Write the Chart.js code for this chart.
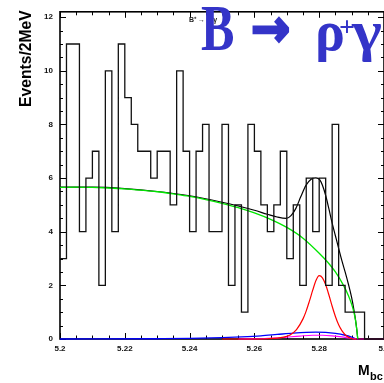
<!DOCTYPE html>
<html>
<head>
<meta charset="utf-8">
<script src="https://cdn.jsdelivr.net/npm/chart.js@4.4.0/dist/chart.umd.min.js"></script>
<style>
  html, body { margin: 0; padding: 0; background: #fff; overflow: hidden; }
  #wrap { position: relative; width: 400px; height: 383px; }
</style>
</head>
<body>
<div id="wrap"><canvas id="mbc" width="400" height="383"></canvas></div>
<script>
/* ---------- data ---------- */
const binStart = 5.2;          // GeV, first bin low edge
const binWidth = 0.002;        // 2 MeV bins
const counts = [3, 11, 11, 4, 6, 7, 2, 10, 4, 11,
                9, 8, 7, 7, 6, 7, 7, 5, 10, 7,
                4, 7, 8, 4, 4, 8, 2, 5, 1, 8,
                7, 5, 4, 5, 7, 3, 5, 2, 6, 4,
                6, 2, 8, 2, 1, 1, 1, 0, 0, 0];

// total fit (black)
const fitMass = [5.200, 5.210, 5.220, 5.230, 5.240, 5.250, 5.255, 5.260, 5.264, 5.267,
                 5.2698, 5.2713, 5.2728, 5.2743, 5.2759, 5.2775, 5.279, 5.2802, 5.281, 5.282,
                 5.283, 5.284, 5.285, 5.286, 5.287, 5.288, 5.289, 5.290, 5.2907, 5.2912,
                 5.2916, 5.2919];
const fitVals = [5.66, 5.66, 5.61, 5.50, 5.34, 5.10, 4.96, 4.80, 4.65, 4.55,
                 4.50, 4.60, 4.87, 5.30, 5.73, 5.96, 6.01, 5.93, 5.73, 5.35,
                 4.85, 4.32, 3.85, 3.38, 2.92, 2.50, 2.05, 1.55, 1.10, 0.72,
                 0.35, 0];

// continuum background (green)
const bkgMass = [5.200, 5.205, 5.210, 5.215, 5.220, 5.225, 5.230, 5.235, 5.240, 5.245,
                 5.250, 5.255, 5.260, 5.265, 5.270, 5.275, 5.280, 5.2825, 5.285, 5.2875,
                 5.289, 5.290, 5.2907, 5.2912, 5.2916, 5.2919];
const bkgVals = [5.65, 5.66, 5.65, 5.63, 5.60, 5.55, 5.49, 5.41, 5.32, 5.20,
                 5.06, 4.90, 4.70, 4.46, 4.16, 3.76, 3.20, 2.88, 2.50, 2.00,
                 1.62, 1.30, 1.00, 0.70, 0.35, 0];

// signal (red)
const sigMass = [5.250, 5.260, 5.264, 5.267, 5.269, 5.271, 5.273, 5.275, 5.276, 5.277,
                 5.278, 5.279, 5.280, 5.281, 5.282, 5.283, 5.284, 5.285, 5.286, 5.287,
                 5.288, 5.289, 5.290, 5.291, 5.300];
const sigVals = [0, 0, 0.01, 0.03, 0.07, 0.15, 0.35, 0.75, 1.05, 1.42,
                 1.82, 2.18, 2.36, 2.28, 2.02, 1.64, 1.22, 0.84, 0.53, 0.31,
                 0.16, 0.07, 0.02, 0, 0];

// B background (blue)
const bbMass = [5.200, 5.230, 5.240, 5.250, 5.256, 5.262, 5.267, 5.272, 5.276, 5.279,
                5.282, 5.285, 5.288, 5.290, 5.2915, 5.300];
const bbVals = [0, 0.01, 0.02, 0.05, 0.08, 0.12, 0.17, 0.22, 0.25, 0.26,
                0.25, 0.21, 0.14, 0.07, 0, 0];

// cross-feed (magenta)
const xfMass = [5.255, 5.262, 5.266, 5.270, 5.274, 5.278, 5.281, 5.284, 5.287, 5.289,
                5.2905, 5.2915];
const xfVals = [0, 0.01, 0.03, 0.07, 0.11, 0.14, 0.14, 0.12, 0.08, 0.04,
                0.01, 0];

const xTicks = [5.2, 5.22, 5.24, 5.26, 5.28, 5.3];
const yTicks = [0, 2, 4, 6, 8, 10, 12];

/* ---------- helpers ---------- */
function pairs(xs, ys) {
    return xs.map((x, i) => ({x: x, y: ys[i]}));
}
function histPoints() {
    const pts = counts.map((c, i) => ({x: binStart + i * binWidth, y: c}));
    pts.push({x: binStart + counts.length * binWidth, y: 0});
    return pts;
}
function curve(label, xs, ys, color, width) {
    return {
        label: label, data: pairs(xs, ys), borderColor: color, borderWidth: width,
        pointRadius: 0, fill: false, cubicInterpolationMode: 'monotone', clip: 3
    };
}

/* ---------- frame + inward ticks ---------- */
const framePlugin = {
    id: 'frame',
    beforeDatasetsDraw(chart) {
        const ctx = chart.ctx, a = chart.chartArea;
        const xs = chart.scales.x, ys = chart.scales.y;
        ctx.save();
        ctx.strokeStyle = '#000';
        ctx.lineWidth = 1;
        ctx.beginPath();
        for (let k = 0; k <= 24; k++) {
            const py = Math.round(ys.getPixelForValue(k * 0.5)) + 0.5;
            const len = (k % 4 === 0) ? 6 : 3;
            ctx.moveTo(a.left, py); ctx.lineTo(a.left + len, py);
            ctx.moveTo(a.right, py); ctx.lineTo(a.right - len, py);
        }
        for (let k = 0; k <= 20; k++) {
            const px = Math.round(xs.getPixelForValue(5.2 + k * 0.005)) + 0.5;
            const len = (k % 4 === 0) ? 6 : 3.5;
            ctx.moveTo(px, a.bottom); ctx.lineTo(px, a.bottom - len);
            ctx.moveTo(px, a.top); ctx.lineTo(px, a.top + len);
        }
        ctx.stroke();
        ctx.lineWidth = 1.6;
        ctx.strokeRect(a.left, a.top, a.right - a.left, a.bottom - a.top);
        ctx.restore();
    }
};

/* ---------- titles ---------- */
function scaledText(ctx, txt, x, y, font, sx) {
    ctx.save();
    ctx.translate(x, y);
    ctx.scale(sx, 1);
    ctx.font = font;
    ctx.fillText(txt, 0, 0);
    ctx.restore();
}
const textPlugin = {
    id: 'texts',
    afterDraw(chart) {
        const ctx = chart.ctx;
        ctx.save();
        ctx.textAlign = 'left';
        ctx.textBaseline = 'alphabetic';

        // y title
        ctx.fillStyle = '#000';
        ctx.save();
        ctx.translate(31, 107);
        ctx.rotate(-Math.PI / 2);
        ctx.font = 'bold 15.7px "Liberation Sans", Arial, sans-serif';
        ctx.fillText('Events/2MeV', 0, 0);
        ctx.restore();

        // x title
        ctx.font = 'bold 14px "Liberation Sans", Arial, sans-serif';
        ctx.fillText('M', 358, 375);
        ctx.font = 'bold 11px "Liberation Sans", Arial, sans-serif';
        ctx.fillText('bc', 370, 380);

        // small decay label
        ctx.fillStyle = '#222';
        ctx.font = 'bold 7px "Liberation Sans", Arial, sans-serif';
        ctx.fillText('B\u207A \u2192 \u03C1\u207A\u03B3', 189, 22);

        // big decay title
        ctx.fillStyle = '#3434c8';
        scaledText(ctx, 'B', 201, 50, 'bold 66px "Liberation Serif", serif', 0.76);
        ctx.save();
        ctx.translate(251, 46);
        ctx.scale(0.9, 1);
        ctx.font = 'bold 52px "DejaVu Sans", sans-serif';
        ctx.strokeStyle = '#3434c8';
        ctx.lineWidth = 2.5;
        ctx.fillText('\u2192', 0, 0);
        ctx.strokeText('\u2192', 0, 0);
        ctx.restore();
        scaledText(ctx, '\u03C1', 315, 50, 'bold 56px "Liberation Serif", serif', 1);
        scaledText(ctx, '+', 339, 36, 'bold 28px "Liberation Serif", serif', 1);
        scaledText(ctx, '\u03B3', 352, 50, 'bold 58px "Liberation Serif", serif', 1.1);
        ctx.restore();
    }
};

/* ---------- chart ---------- */
const tickFont = {family: '"Liberation Sans", Arial, sans-serif', size: 8, weight: 'bold'};

new Chart(document.getElementById('mbc'), {
    type: 'line',
    data: {
        datasets: [
            {label: 'data', data: histPoints(), stepped: true, borderColor: '#111',
             borderWidth: 1.3, pointRadius: 0, fill: false, clip: 3},
            curve('background', bkgMass, bkgVals, '#00e600', 1.3),
            curve('fit', fitMass, fitVals, '#000', 1.2),
            curve('signal', sigMass, sigVals, '#ff0000', 1.2),
            curve('crossfeed', xfMass, xfVals, '#ff00ff', 1.2),
            curve('B background', bbMass, bbVals, '#0000ff', 1.3)
        ]
    },
    options: {
        responsive: false,
        animation: false,
        events: [],
        layout: {padding: {top: 7, right: 16, left: 0, bottom: 0}},
        plugins: {legend: {display: false}, tooltip: {enabled: false}},
        scales: {
            x: {
                type: 'linear', min: 5.2, max: 5.3,
                grid: {display: false, drawTicks: false},
                border: {display: false},
                afterBuildTicks: s => { s.ticks = xTicks.map(v => ({value: v})); },
                afterFit: s => { s.height = 44; },
                ticks: {
                    color: '#111', font: tickFont, padding: 5, maxRotation: 0, autoSkip: false,
                    callback: v => String(Number(v.toFixed(2)))
                }
            },
            y: {
                type: 'linear', min: 0, max: 12.2,
                grid: {display: false, drawTicks: false},
                border: {display: false},
                afterBuildTicks: s => { s.ticks = yTicks.map(v => ({value: v})); },
                afterFit: s => { s.width = 60; },
                ticks: {color: '#111', font: tickFont, padding: 7, autoSkip: false}
            }
        }
    },
    plugins: [framePlugin, textPlugin]
});
</script>
</body>
</html>
